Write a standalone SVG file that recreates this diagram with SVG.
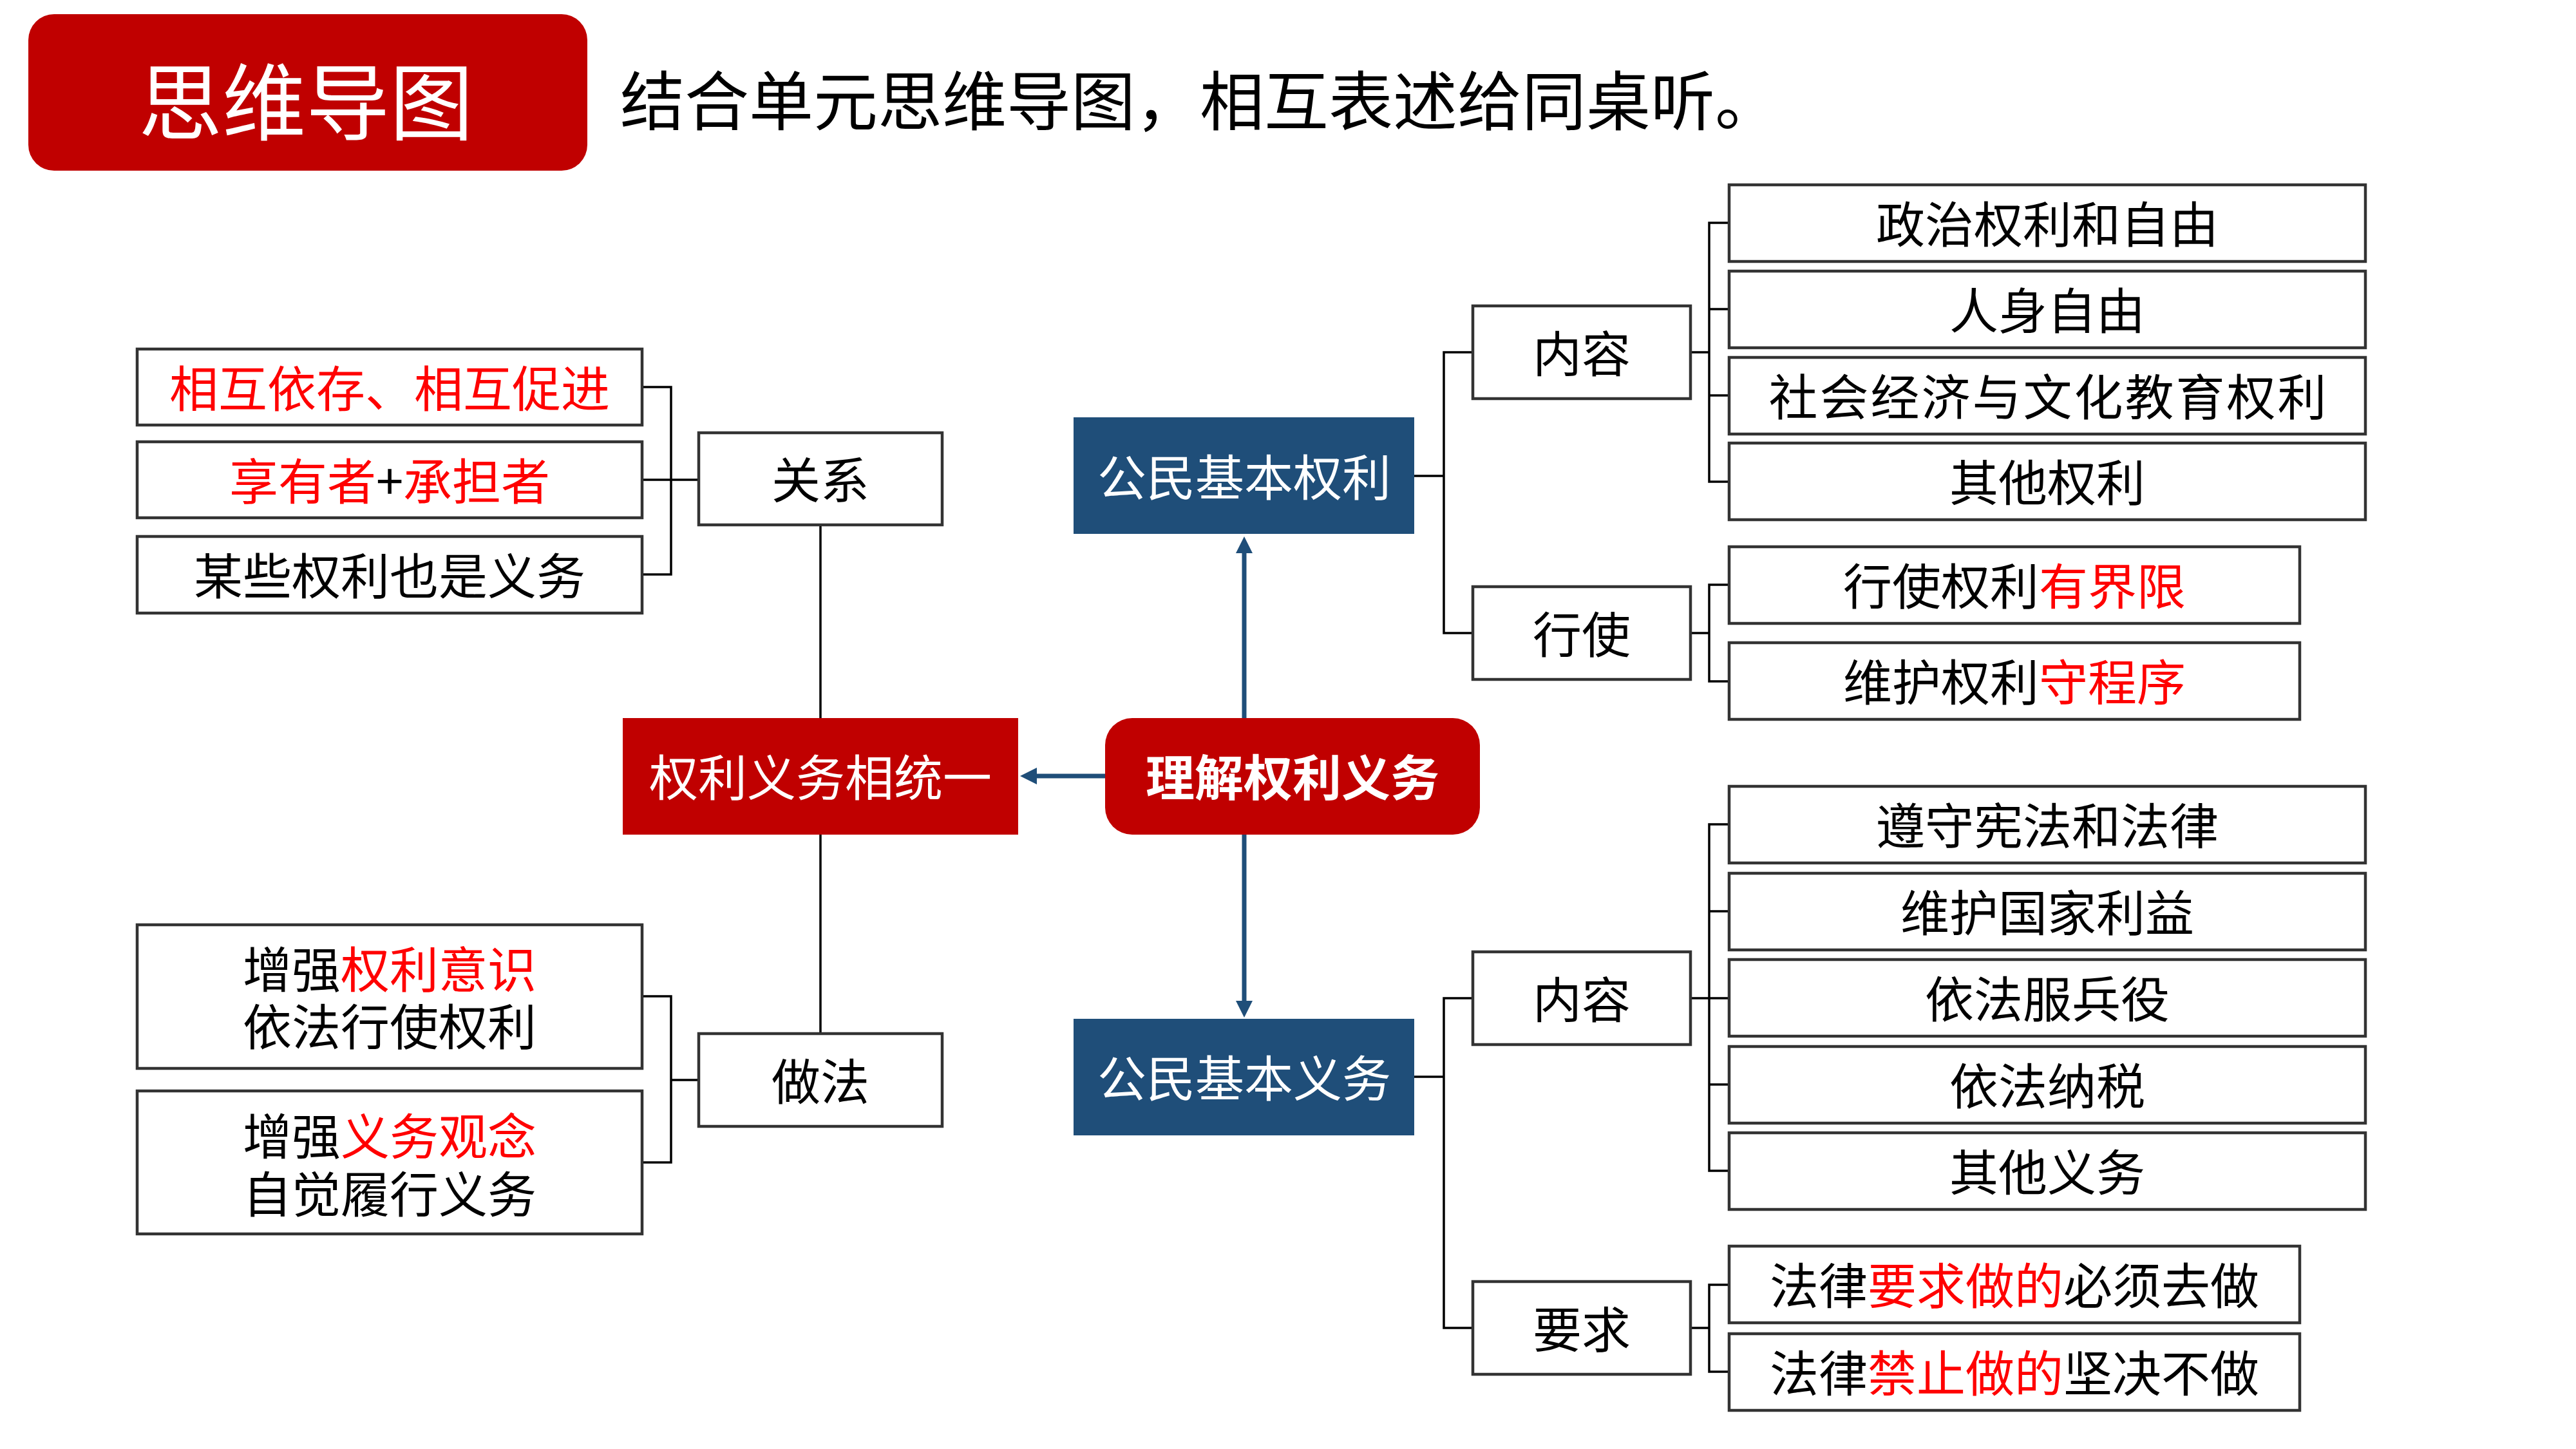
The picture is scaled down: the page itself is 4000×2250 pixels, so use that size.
<svg xmlns="http://www.w3.org/2000/svg" width="4000" height="2250" viewBox="0 0 4000 2250">
<style>
text{font-family:"Noto Sans CJK SC","Noto Sans",sans-serif;font-size:76px;text-anchor:middle;dominant-baseline:central;fill:#000}
.box{fill:#fff;stroke:#333;stroke-width:4.5}
.red{fill:#C00000}
.blue{fill:#1F4E79}
.w{fill:#fff}
.r{fill:#FF0000}
.br{fill:none;stroke:#000;stroke-width:3.5}
.thin{fill:none;stroke:#000;stroke-width:3.5}
.arr{fill:none;stroke:#1F4E79;stroke-width:7;marker-end:url(#ah)}
</style>
<defs>
<marker id="ah" viewBox="0 0 26 26" refX="1" refY="13" markerWidth="26" markerHeight="26" markerUnits="userSpaceOnUse" orient="auto">
<path d="M0,0 L26,13 L0,26 z" fill="#1F4E79"/>
</marker>
</defs>
<rect width="4000" height="2250" fill="#fff"/>

<g id="title">
<rect class="red" x="44" y="22" width="868" height="243" rx="40"/>
<text class="w" x="475" y="150" style="font-size:130px">思维导图</text>
</g>
<g id="subtitle">
<text x="963" y="150" style="font-size:100px;text-anchor:start">结合单元思维导图，相互表述给同桌听。</text>
</g>

<g id="connectors">
<path class="br" d="M997,601 H1042 V892 H997 M997,745 H1085"/>
<path class="thin" d="M1274,815 V1115 M1274,1296 V1605"/>
<path class="br" d="M997,1547 H1042 V1805 H997 M1042,1677 H1085"/>
<path class="arr" d="M1716,1205 H1609"/>
<path class="arr" d="M1932,1115 V858"/>
<path class="arr" d="M1932,1296 V1555"/>
<path class="br" d="M2196,739 H2242 M2287,547 H2242 V983 H2287"/>
<path class="br" d="M2625,547 H2654 M2685,346 H2654 V748 H2685 M2654,480 H2685 M2654,614 H2685"/>
<path class="br" d="M2625,983 H2654 M2685,908 H2654 V1058 H2685"/>
<path class="br" d="M2196,1672 H2242 M2287,1550 H2242 V2062 H2287"/>
<path class="br" d="M2625,1550 H2685 M2685,1280 H2654 V1818 H2685 M2654,1415 H2685 M2654,1684 H2685"/>
<path class="br" d="M2625,2062 H2654 M2685,1995 H2654 V2130 H2685"/>
</g>

<g id="n-core">
<rect class="red" x="1716" y="1115" width="582" height="181" rx="42"/>
<text class="w" x="2007" y="1203" style="font-weight:700">理解权利义务</text>
</g>
<g id="n-unity">
<rect class="red" x="967" y="1115" width="614" height="181"/>
<text class="w" x="1274" y="1203">权利义务相统一</text>
</g>
<g id="n-rights">
<rect class="blue" x="1667" y="648" width="529" height="181"/>
<text class="w" x="1932" y="737">公民基本权利</text>
</g>
<g id="n-duties">
<rect class="blue" x="1667" y="1582" width="529" height="181"/>
<text class="w" x="1932" y="1670">公民基本义务</text>
</g>

<g id="n-guanxi">
<rect class="box" x="1085" y="672" width="378" height="143"/>
<text x="1274" y="741">关系</text>
</g>
<g id="n-rel1">
<rect class="box" x="213" y="542" width="784" height="118"/>
<text class="r" x="605" y="599">相互依存、相互促进</text>
</g>
<g id="n-rel2">
<rect class="box" x="213" y="686" width="784" height="118"/>
<text x="605" y="743"><tspan class="r">享有者</tspan>+<tspan class="r">承担者</tspan></text>
</g>
<g id="n-rel3">
<rect class="box" x="213" y="833" width="784" height="119"/>
<text x="605" y="890">某些权利也是义务</text>
</g>

<g id="n-zuofa">
<rect class="box" x="1085" y="1605" width="378" height="144"/>
<text x="1274" y="1675">做法</text>
</g>
<g id="n-do1">
<rect class="box" x="213" y="1436" width="784" height="223"/>
<text x="605" y="1501">增强<tspan class="r">权利意识</tspan><tspan x="605" dy="89">依法行使权利</tspan></text>
</g>
<g id="n-do2">
<rect class="box" x="213" y="1694" width="784" height="222"/>
<text x="605" y="1760">增强<tspan class="r">义务观念</tspan><tspan x="605" dy="90">自觉履行义务</tspan></text>
</g>

<g id="n-rcontent">
<rect class="box" x="2287" y="475" width="338" height="144"/>
<text x="2456" y="545">内容</text>
</g>
<g id="n-rexercise">
<rect class="box" x="2287" y="911" width="338" height="144"/>
<text x="2456" y="981">行使</text>
</g>
<g id="n-r1">
<rect class="box" x="2685" y="287" width="988" height="119"/>
<text x="3179" y="344">政治权利和自由</text>
</g>
<g id="n-r2">
<rect class="box" x="2685" y="421" width="988" height="119"/>
<text x="3179" y="478">人身自由</text>
</g>
<g id="n-r3">
<rect class="box" x="2685" y="555" width="988" height="119"/>
<text x="3181" y="612" style="letter-spacing:3px">社会经济与文化教育权利</text>
</g>
<g id="n-r4">
<rect class="box" x="2685" y="688" width="988" height="119"/>
<text x="3179" y="745">其他权利</text>
</g>
<g id="n-re1">
<rect class="box" x="2685" y="849" width="886" height="119"/>
<text x="3128" y="906">行使权利<tspan class="r">有界限</tspan></text>
</g>
<g id="n-re2">
<rect class="box" x="2685" y="998" width="886" height="119"/>
<text x="3128" y="1055">维护权利<tspan class="r">守程序</tspan></text>
</g>

<g id="n-dcontent">
<rect class="box" x="2287" y="1478" width="338" height="144"/>
<text x="2456" y="1548">内容</text>
</g>
<g id="n-drequire">
<rect class="box" x="2287" y="1990" width="338" height="144"/>
<text x="2456" y="2060">要求</text>
</g>
<g id="n-d1">
<rect class="box" x="2685" y="1221" width="988" height="119"/>
<text x="3179" y="1278">遵守宪法和法律</text>
</g>
<g id="n-d2">
<rect class="box" x="2685" y="1356" width="988" height="119"/>
<text x="3179" y="1413">维护国家利益</text>
</g>
<g id="n-d3">
<rect class="box" x="2685" y="1490" width="988" height="119"/>
<text x="3179" y="1547">依法服兵役</text>
</g>
<g id="n-d4">
<rect class="box" x="2685" y="1625" width="988" height="119"/>
<text x="3179" y="1682">依法纳税</text>
</g>
<g id="n-d5">
<rect class="box" x="2685" y="1759" width="988" height="119"/>
<text x="3179" y="1816">其他义务</text>
</g>
<g id="n-dr1">
<rect class="box" x="2685" y="1935" width="886" height="119"/>
<text x="3128" y="1992">法律<tspan class="r">要求做的</tspan>必须去做</text>
</g>
<g id="n-dr2">
<rect class="box" x="2685" y="2071" width="886" height="119"/>
<text x="3128" y="2128">法律<tspan class="r">禁止做的</tspan>坚决不做</text>
</g>
</svg>
